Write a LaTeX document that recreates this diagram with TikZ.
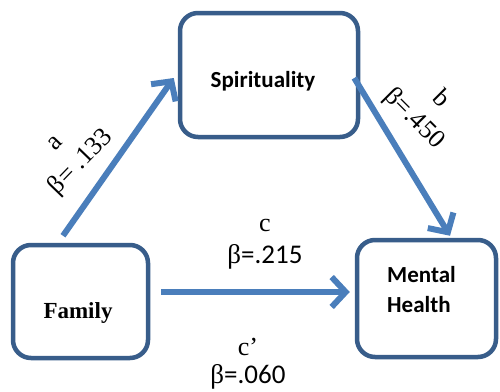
\documentclass[tikz,border=0pt]{standalone}
\usepackage{fontspec}
\setmainfont{Liberation Serif}
\newfontfamily\calfont{Carlito}
\usetikzlibrary{arrows.meta,calc}
\definecolor{boxc}{HTML}{385D8A}
\definecolor{arrc}{HTML}{4A7EBB}
\begin{document}
\begin{tikzpicture}[x=1pt,y=-1pt,
  box/.style={draw=boxc,line width=4.5pt,rounded corners=18pt,inner sep=0pt,fill=white},
  arr/.style={draw=arrc,line width=6pt,-{Straight Barb[length=14pt,width=30pt]}},
  boxtext/.style={font=\calfont\bfseries\fontsize{23}{30}\selectfont,inner sep=0pt},
  lbl/.style={font=\fontsize{26}{28}\selectfont,inner sep=0pt},
  beta/.style={font=\fontsize{27}{30}\selectfont,inner sep=0pt}]
\useasboundingbox (0,0) rectangle (500,391);
% boxes
\node[box,minimum width=178pt,minimum height=124pt] (spi) at (269,75) {};
\node[box,minimum width=135pt,minimum height=113pt] (fam) at (80.5,301.5) {};
\node[box,minimum width=139pt,minimum height=117pt] (mh) at (426.5,298.5) {};
% box texts
\node[boxtext,anchor=base] (spit) at (263,87) {Spirituality};
\node[font=\bfseries\fontsize{23}{26}\selectfont,inner sep=0pt,anchor=base] (famt) at (78,318) {Family};
\node[boxtext,anchor=base west,align=left] (mht) at (387,312) {Mental\\Health};
% connector end points
\coordinate (a0) at ($(fam.north)+(-17.5,-7)$);
\coordinate (a1) at ($(spi.west)+(-4,3)$);
\coordinate (b0) at ($(spi.east)+(-6,3)$);
\coordinate (b1) at ($(mh.north)+(23.5,-2)$);
\coordinate (c0) at ($(fam.east)+(11,-9.5)$);
\coordinate (c1) at ($(mh.west)+(-5,-6.5)$);
\draw[arr] (a0) -- (a1);
\draw[arr] (b0) -- (b1);
\draw[arr] (c0) -- (c1);
% labels
\node[lbl,rotate=46] (la) at (55,143) {a};
\node[lbl,rotate=46] (lab) at (81,162) {β= .133};
\node[lbl,rotate=-45] (lb) at (442,98) {b};
\node[lbl,rotate=-45] (lbb) at (414,119) {β=.450};
\node[lbl] (lc) at (265,225) {c};
\node[beta] (lcb) at (265,257) {β{\calfont=.215}};
\node[lbl] (lcp) at (248,347) {c’};
\node[beta] (lcpb) at (248,377) {β{\calfont=.060}};
\end{tikzpicture}
\end{document}
